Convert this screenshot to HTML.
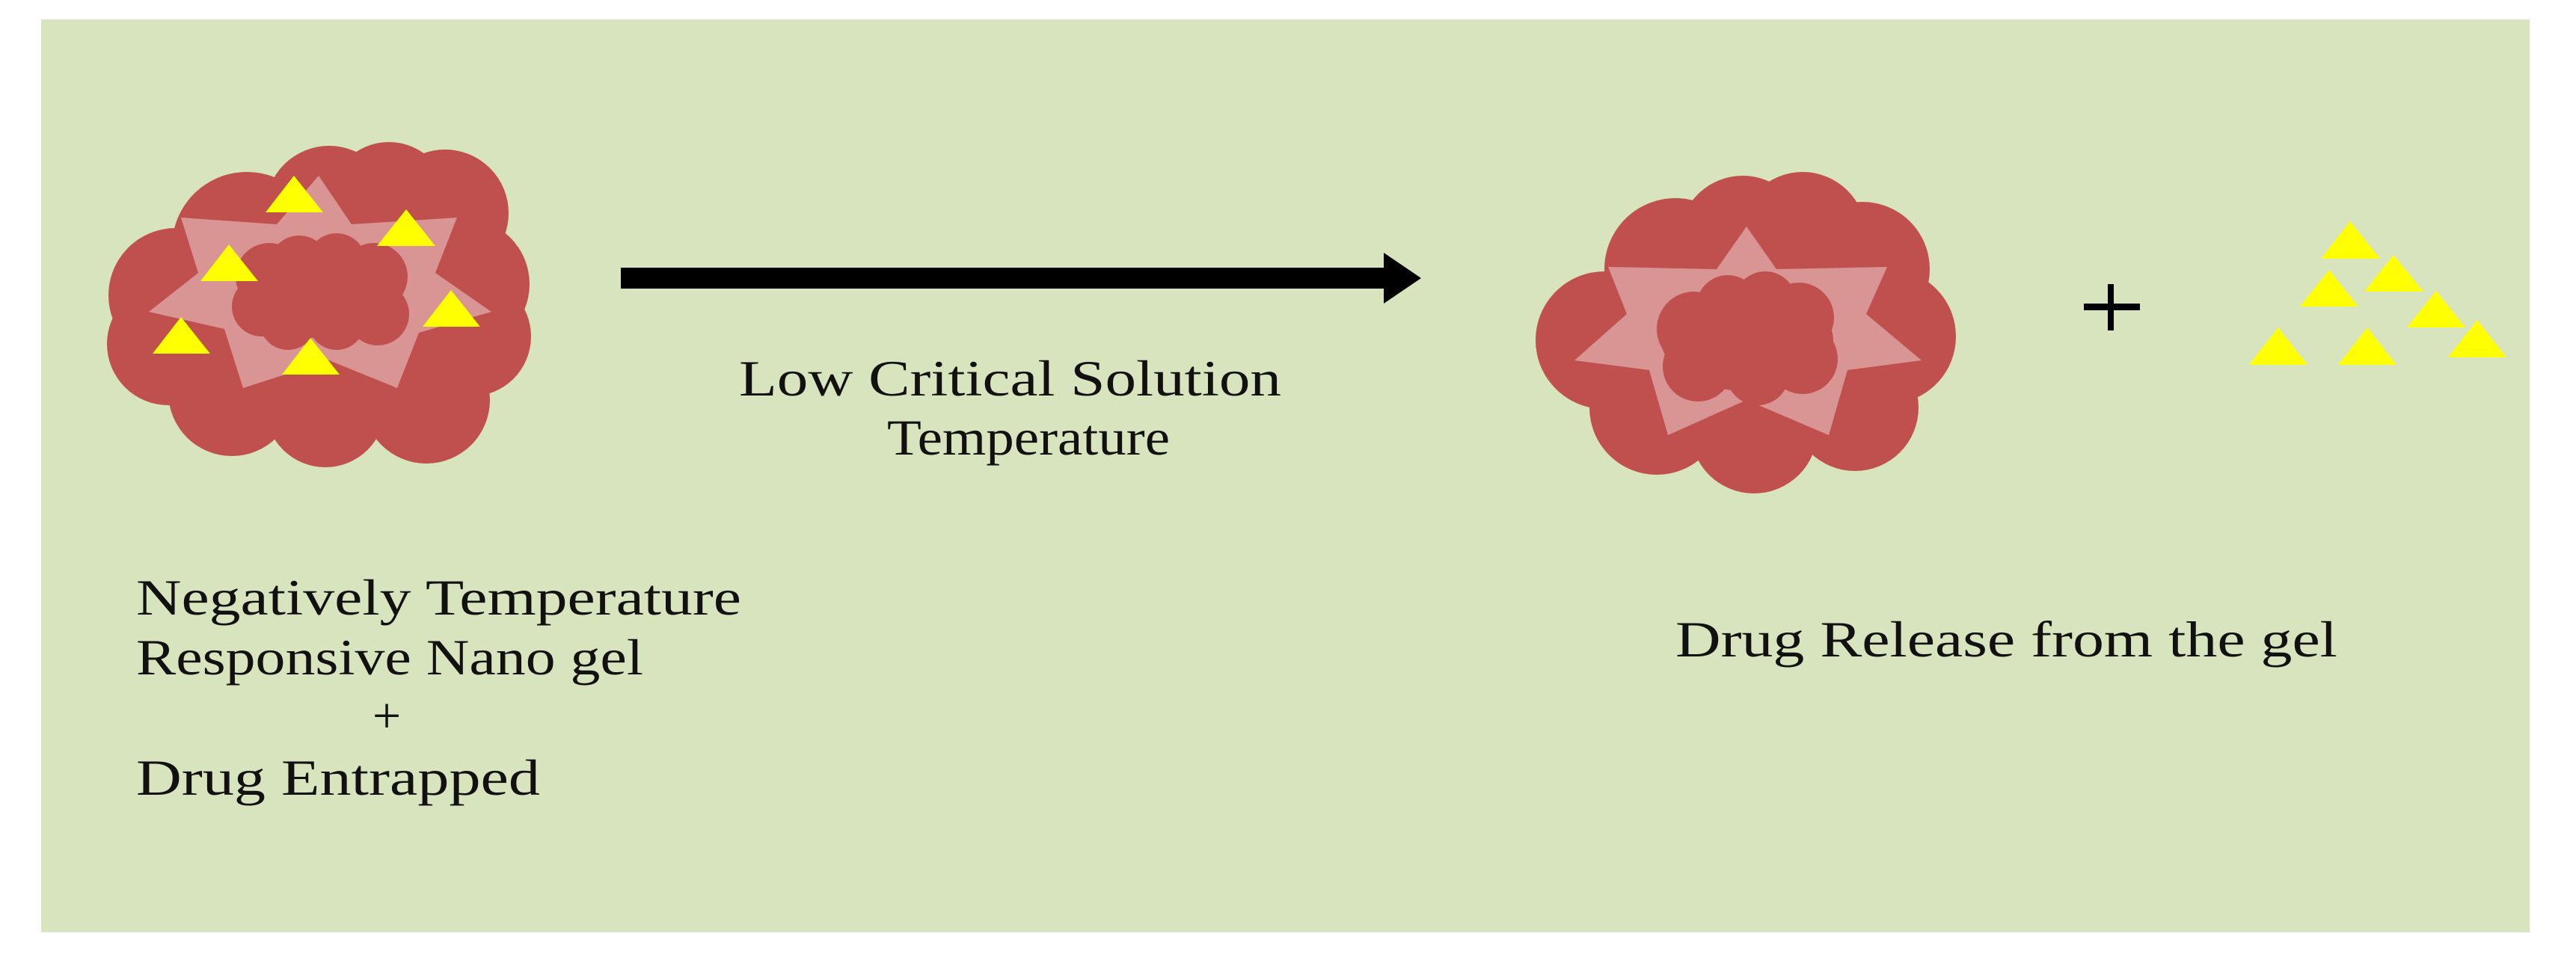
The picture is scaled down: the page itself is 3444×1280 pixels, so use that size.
<!DOCTYPE html>
<html><head><meta charset="utf-8"><style>html,body{margin:0;padding:0;background:#fff}svg{display:block}</style></head>
<body>
<svg width="3444" height="1280" viewBox="0 0 3444 1280" xmlns="http://www.w3.org/2000/svg">
<rect x="0" y="0" width="3444" height="1280" fill="#fff"/>
<rect x="55" y="26" width="3327" height="1221" fill="#d8e4bd"/>
<g fill="#c0504d">
<ellipse cx="425" cy="408" rx="200" ry="135"/>
<circle cx="330" cy="330" r="100"/><circle cx="440" cy="280" r="85"/><circle cx="520" cy="270" r="80"/><circle cx="595" cy="285" r="85"/>
<circle cx="620" cy="380" r="88"/><circle cx="630" cy="450" r="80"/><circle cx="570" cy="535" r="85"/><circle cx="435" cy="545" r="80"/>
<circle cx="310" cy="525" r="85"/><circle cx="225" cy="460" r="82"/><circle cx="235" cy="395" r="90"/>
</g>
<polygon fill="#d99594" points="426,235 470,300 611,291 582,365 657,417 560,445 531,519 440,482 325,519 300,440 199,417 265,365 242,291 370,300"/>
<g fill="#c0504d">
<ellipse cx="428" cy="392" rx="110" ry="60"/>
<circle cx="360" cy="370" r="45"/><circle cx="400" cy="355" r="40"/><circle cx="450" cy="352" r="40"/><circle cx="500" cy="370" r="45"/>
<circle cx="505" cy="420" r="42"/><circle cx="450" cy="430" r="38"/><circle cx="385" cy="430" r="38"/><circle cx="350" cy="410" r="40"/>
</g>
<g fill="#ffff00">
<polygon points="393,235 432,284 355,284"/>
<polygon points="543,280 582,329 504,329"/>
<polygon points="306,327 345,376 268,376"/>
<polygon points="603,388 642,437 565,437"/>
<polygon points="242,424 281,473 204,473"/>
<polygon points="415,452 454,501 377,501"/>
</g>
<rect x="830" y="358" width="1030" height="28" fill="#000"/>
<polygon points="1850,338 1900,372 1850,406" fill="#000"/>
<g fill="#c0504d">
<ellipse cx="2333" cy="450" rx="205" ry="140"/>
<circle cx="2240" cy="360" r="95"/><circle cx="2330" cy="320" r="85"/><circle cx="2410" cy="315" r="85"/><circle cx="2490" cy="360" r="90"/>
<circle cx="2525" cy="450" r="90"/><circle cx="2480" cy="545" r="85"/><circle cx="2345" cy="575" r="85"/><circle cx="2215" cy="545" r="90"/>
<circle cx="2145" cy="455" r="92"/>
</g>
<polygon fill="#d99594" points="2335,303 2375,360 2523,357 2495,420 2569,482 2470,495 2445,582 2335,535 2230,582 2205,495 2105,482 2175,420 2150,357 2295,360"/>
<g fill="#c0504d">
<ellipse cx="2336" cy="455" rx="115" ry="68"/>
<circle cx="2265" cy="440" r="50"/><circle cx="2310" cy="410" r="42"/><circle cx="2360" cy="405" r="42"/><circle cx="2405" cy="425" r="47"/>
<circle cx="2410" cy="480" r="47"/><circle cx="2350" cy="500" r="42"/><circle cx="2270" cy="490" r="47"/>
</g>
<rect x="2818" y="380" width="8" height="62" fill="#000"/>
<rect x="2786" y="406" width="75" height="9" fill="#000"/>
<g fill="#ffff00">
<polygon points="3142,296 3182,346 3103,346"/>
<polygon points="3200,341 3240,390 3161,390"/>
<polygon points="3114,361 3153,410 3075,410"/>
<polygon points="3257,389 3296,438 3218,438"/>
<polygon points="3046,438 3085,488 3007,488"/>
<polygon points="3165,438 3204,488 3126,488"/>
<polygon points="3312,428 3351,478 3273,478"/>
</g>
<g font-family="Liberation Serif, Times New Roman, serif" font-size="68" fill="#111">
<text x="988" y="529" textLength="725" lengthAdjust="spacingAndGlyphs">Low Critical Solution</text>
<text x="1186" y="608" textLength="378" lengthAdjust="spacingAndGlyphs">Temperature</text>
<text x="182" y="822" textLength="809" lengthAdjust="spacingAndGlyphs">Negatively Temperature</text>
<text x="182" y="902" textLength="678" lengthAdjust="spacingAndGlyphs">Responsive Nano gel</text>
<text x="517" y="980" text-anchor="middle">+</text>
<text x="182" y="1063" textLength="540" lengthAdjust="spacingAndGlyphs">Drug Entrapped</text>
<text x="2240" y="878" textLength="885" lengthAdjust="spacingAndGlyphs">Drug Release from the gel</text>
</g>
</svg>
</body></html>
